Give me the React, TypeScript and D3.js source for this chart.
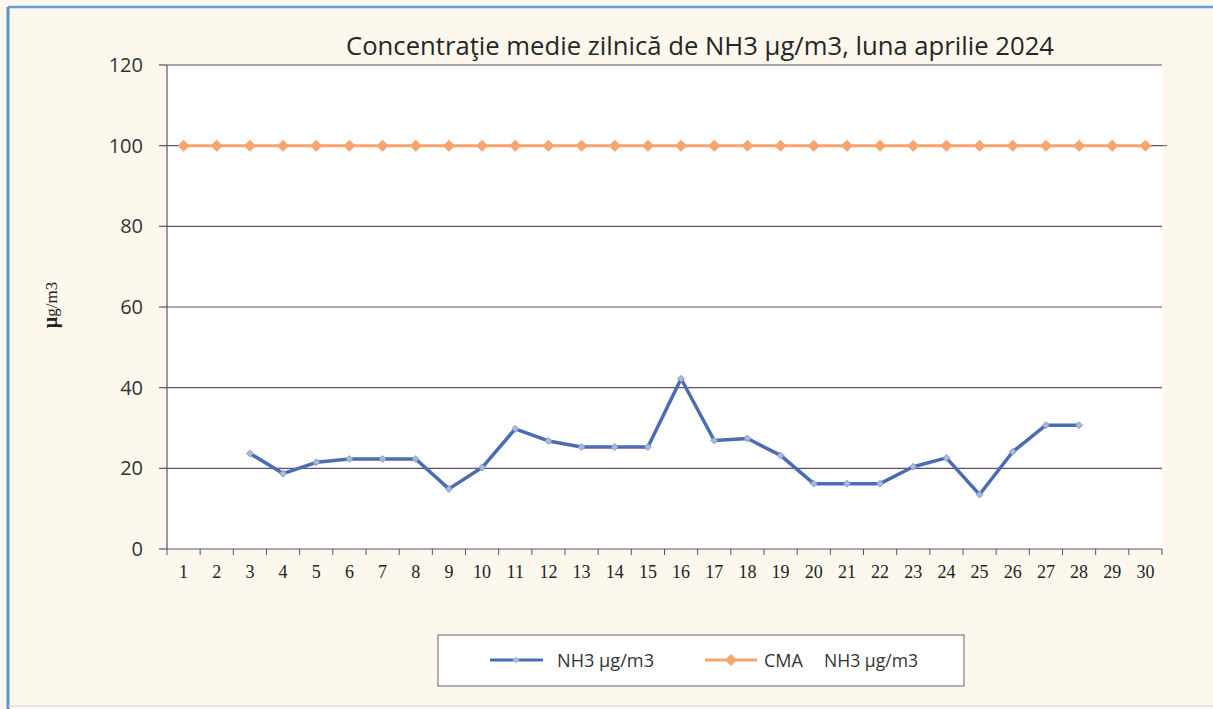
import React from 'react';
import * as d3 from 'd3';

const days = d3.range(1, 31).map(String);
const nh3: (number | null)[] = [
  null, null, 23.7, 18.7, 21.5, 22.3, 22.3, 22.3, 14.9, 20.2,
  29.8, 26.8, 25.3, 25.3, 25.3, 42.2, 26.9, 27.4, 23.2, 16.2,
  16.2, 16.2, 20.4, 22.6, 13.5, 24.1, 30.7, 30.7, null, null,
];
const cma: number[] = days.map(() => 100);
const yTicks = [0, 20, 40, 60, 80, 100, 120];

const W = 1213;
const H = 709;
const m = { left: 167, right: 1162, top: 65, bottom: 549 };
const sans = "'Open Sans', sans-serif";

const App = () => {
  const x = d3.scaleBand<string>().domain(days).range([m.left, m.right]);
  const y = d3.scaleLinear().domain([0, 120]).range([m.bottom, m.top]);
  const cx = (i: number) => (x(days[i]) as number) + x.bandwidth() / 2;

  const blueLine = d3.line<number | null>()
    .defined(d => d != null)
    .x((_, i) => cx(i))
    .y(d => y(d as number));
  const orangeLine = d3.line<number>().x((_, i) => cx(i)).y(d => y(d));

  const diamond = (r: number) => `M0,${-r}L${r},0L0,${r}L${-r},0Z`;

  return (
    <svg width={W} height={H} style={{ position: 'absolute', left: 0, top: 0 }}>
      <rect x={0} y={0} width={W} height={H} fill="#fdf8ee" />
      {/* frame */}
      <line x1={8} x2={W} y1={7} y2={7} stroke="#6a98da" strokeWidth={2.5} />
      <line x1={8} x2={8} y1={7} y2={H} stroke="#5b8fd6" strokeWidth={3} />
      <line x1={8} x2={W} y1={706} y2={706} stroke="#d4cfdc" strokeWidth={1} />

      <rect x={m.left} y={m.top} width={m.right - m.left} height={m.bottom - m.top} fill="#ffffff" />

      <text x={700} y={55} textAnchor="middle" fontFamily={sans} fontSize={25}
        fill="#262626" textLength={708} lengthAdjust="spacingAndGlyphs">
        Concentraţie medie zilnică de NH3 µg/m3, luna aprilie 2024
      </text>

      {/* grid + y axis */}
      {yTicks.map(t => (
        <g key={t}>
          {t > 0 && <line x1={m.left} x2={m.right} y1={y(t)} y2={y(t)} stroke="#5e5068" strokeWidth={1.2} />}
          <line x1={m.left - 8} x2={m.left} y1={y(t)} y2={y(t)} stroke="#5e5068" strokeWidth={1.2} />
          <text x={m.left - 24} y={y(t) + 7} textAnchor="end" fontFamily={sans}
            fontSize={20} fill="#333">{t}</text>
        </g>
      ))}
      <line x1={m.left} x2={m.left} y1={m.top} y2={m.bottom} stroke="#5e5068" strokeWidth={1.2} />
      <line x1={m.left} x2={m.right} y1={m.bottom} y2={m.bottom} stroke="#5e5068" strokeWidth={1.2} />

      {/* x axis */}
      {days.map((d, i) => (
        <g key={d}>
          <line x1={x(d) as number} x2={x(d) as number} y1={m.bottom} y2={m.bottom + 6} stroke="#5e5068" />
          <text x={cx(i)} y={m.bottom + 29} textAnchor="middle" fontFamily="'Liberation Serif', serif"
            fontSize={18} fill="#222">{d}</text>
        </g>
      ))}
      <line x1={m.right} x2={m.right} y1={m.bottom} y2={m.bottom + 6} stroke="#5e5068" />

      <text transform={`translate(57,${305}) rotate(-90)`} textAnchor="middle"
        fontFamily="'Liberation Serif', serif" fontSize={17} fill="#222">
        <tspan fontWeight="bold" fontSize={20}>µ</tspan>g/m3
      </text>

      {/* series */}
      <path d={orangeLine(cma) as string} fill="none" stroke="#f8a46c" strokeWidth={3} />
      {cma.map((v, i) => (
        <path key={i} d={diamond(6)} transform={`translate(${cx(i)},${y(v)})`} fill="#f8a46c" />
      ))}
      <line x1={m.right} x2={m.right + 5} y1={y(100)} y2={y(100)} stroke="#5e5068" />

      <path d={blueLine(nh3) as string} fill="none" stroke="#4a6cb3" strokeWidth={3.5} strokeLinejoin="round" />
      {nh3.map((v, i) => v == null ? null : (
        <path key={i} d={diamond(3.5)} transform={`translate(${cx(i)},${y(v)})`} fill="#a9b9d6" stroke="#7d93c2" strokeWidth={0.8} />
      ))}

      {/* legend */}
      <rect x={438} y={635} width={526} height={51} fill="#ffffff" stroke="#6a6070" strokeWidth={1} />
      <line x1={490} x2={543} y1={660} y2={660} stroke="#4a6cb3" strokeWidth={3} />
      <path d={diamond(3.5)} transform="translate(516,660)" fill="#a9b9d6" />
      <text x={557} y={667} fontFamily={sans} fontSize={18} fill="#333" textLength={97} lengthAdjust="spacingAndGlyphs">NH3 µg/m3</text>
      <line x1={705} x2={757} y1={660} y2={660} stroke="#f8a46c" strokeWidth={3} />
      <path d={diamond(6)} transform="translate(731,660)" fill="#f8a46c" />
      <text x={764} y={667} fontFamily={sans} fontSize={18} fill="#333">CMA</text>
      <text x={824} y={667} fontFamily={sans} fontSize={18} fill="#333" textLength={94} lengthAdjust="spacingAndGlyphs">NH3 µg/m3</text>
    </svg>
  );
};

export default App;
